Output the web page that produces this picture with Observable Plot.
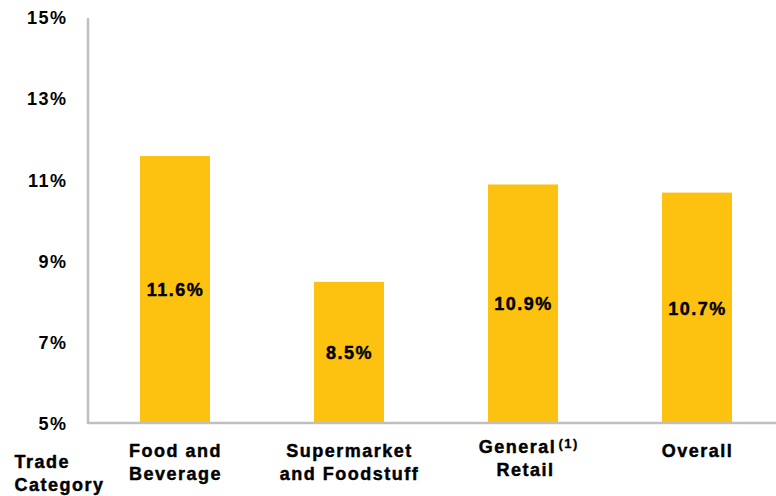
<!DOCTYPE html>
<html>
<head>
<meta charset="utf-8">
<script src="https://cdn.jsdelivr.net/npm/d3@7"></script>
<script src="https://cdn.jsdelivr.net/npm/@observablehq/plot@0.6"></script>
<style>
  html, body { margin: 0; padding: 0; background: #fff; }
  svg { font-family: "Liberation Sans", Arial, sans-serif; font-weight: bold; letter-spacing: 1.5px; }
</style>
</head>
<body>
<div id="chart"></div>
<script>
const categories = ["Food and Beverage", "Supermarket and Foodstuff", "General Retail", "Overall"];
const categoryLabels = ["Food and\nBeverage", "Supermarket\nand Foodstuff", "General\nRetail", "Overall"];
const values = [11.6, 8.5, 10.9, 10.7];
const yTicks = [5, 7, 9, 11, 13, 15];
const axisTitle = "Trade\nCategory";
const footnoteCategory = "General Retail";
const footnoteMark = "(1)";

const rows = categories.map((c, i) => ({category: c, label: categoryLabels[i], value: values[i]}));
const plainRows = rows.filter(d => d.category !== footnoteCategory);
const noteRow = rows.filter(d => d.category === footnoteCategory);

const axisLine = (index, scales) => {
  const g = d3.create("svg:g");
  g.append("line")
    .attr("x1", 88).attr("x2", 88)
    .attr("y1", scales.y(15)).attr("y2", scales.y(5))
    .attr("stroke", "#BFBFBF").attr("stroke-width", 2.5);
  g.append("line")
    .attr("x1", 88).attr("x2", 776)
    .attr("y1", scales.y(5) - 1).attr("y2", scales.y(5) - 1)
    .attr("stroke", "#BFBFBF").attr("stroke-width", 2.5);
  return g.node();
};

const ink = {fill: "#000", stroke: "#000", strokeWidth: 0.45};

const chart = Plot.plot({
  width: 776,
  height: 496,
  marginLeft: 88,
  marginRight: 0,
  marginTop: 18,
  marginBottom: 72,
  style: {fontFamily: "'Liberation Sans', Arial, sans-serif", fontWeight: "bold", fontSize: "18px", color: "#000"},
  x: {domain: categories, range: [88, 784], paddingInner: 0.6, paddingOuter: 0.3, axis: null},
  y: {domain: [5, 15], axis: null},
  marks: [
    Plot.barY(rows, {x: "category", y1: 5, y2: "value", fill: "#FDC20F"}),
    axisLine,
    Plot.axisY({ticks: yTicks, tickFormat: d => d + "%", tickSize: 0, tickPadding: 21, fontSize: 18, label: null, ...ink}),
    Plot.text(rows, {x: "category", y: d => (5 + d.value) / 2, text: d => d.value.toFixed(1) + "%", fontSize: 18, ...ink}),
    Plot.text(plainRows, {x: "category", y: 5, text: "label", lineAnchor: "top", dy: 16, lineHeight: 1.28, fontSize: 18, ...ink}),
    Plot.text(noteRow, {x: "category", y: 5, text: d => d.label.split("\n")[0], lineAnchor: "top", dx: -6, dy: 16, fontSize: 18, ...ink}),
    Plot.text(noteRow, {x: "category", y: 5, text: d => d.label.split("\n")[1], lineAnchor: "top", dx: 2, dy: 39, fontSize: 18, ...ink}),
    Plot.text(noteRow, {x: "category", y: 5, text: () => footnoteMark, lineAnchor: "top", textAnchor: "start", dx: 35, dy: 14, fontSize: 13, letterSpacing: 0.5, fill: "#000", stroke: "#000", strokeWidth: 0.3}),
    Plot.text([axisTitle], {frameAnchor: "bottom-left", text: d => d, textAnchor: "start", lineAnchor: "top", dx: -74, dy: 27, lineHeight: 1.28, fontSize: 18, ...ink})
  ]
});
document.getElementById("chart").appendChild(chart);
</script>
</body>
</html>
